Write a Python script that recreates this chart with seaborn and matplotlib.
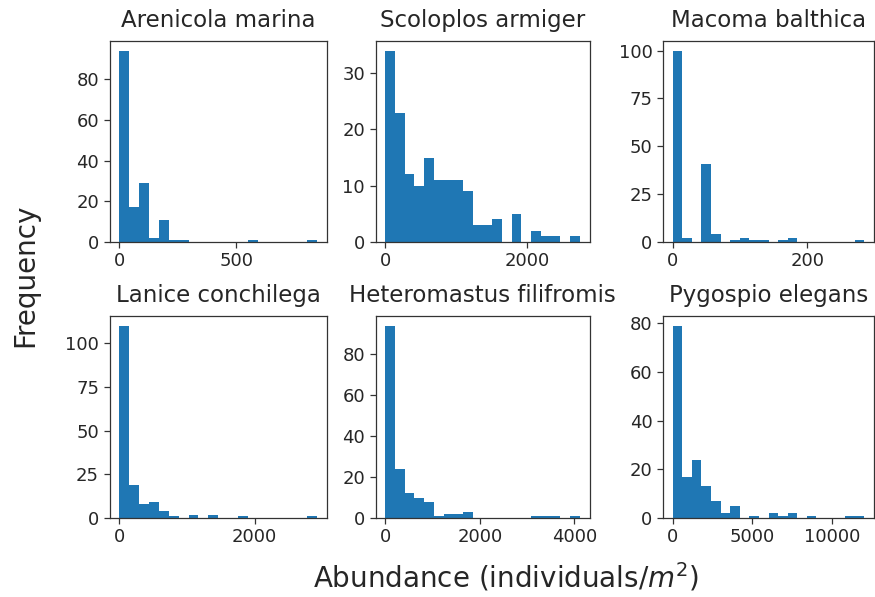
import numpy as np
import pandas as pd
import matplotlib
matplotlib.use("Agg")
import matplotlib.pyplot as plt
import seaborn as sns

# ---- data (20 equal-width bins from 0 to the max) ----
species = ["Arenicola marina", "Scoloplos armiger", "Macoma balthica",
           "Lanice conchilega", "Heteromastus filifromis", "Pygospio elegans"]

max_abundance = [846, 2745, 285, 2925, 4112, 12020]

counts_arenicola = [94, 17, 29, 2, 11, 1, 1, 0, 0, 0, 0, 0, 0, 1, 0, 0, 0, 0, 0, 1]
counts_scoloplos = [34, 23, 12, 10, 15, 11, 11, 11, 9, 3, 3, 4, 0, 5, 0, 2, 1, 1, 0, 1]
counts_macoma = [100, 2, 0, 41, 4, 0, 1, 2, 1, 1, 0, 1, 2, 0, 0, 0, 0, 0, 0, 1]
counts_lanice = [110, 19, 8, 9, 4, 1, 0, 2, 0, 2, 0, 0, 1, 0, 0, 0, 0, 0, 0, 1]
counts_heteromastus = [94, 24, 12, 10, 8, 1, 2, 2, 3, 0, 0, 0, 0, 0, 0, 1, 1, 1, 0, 1]
counts_pygospio = [79, 17, 24, 13, 7, 2, 5, 0, 1, 0, 2, 1, 2, 0, 1, 0, 0, 0, 1, 1]

all_counts = [counts_arenicola, counts_scoloplos, counts_macoma,
              counts_lanice, counts_heteromastus, counts_pygospio]

xtick_values = [[0, 500], [0, 2000], [0, 200],
                [0, 2000], [0, 2000, 4000], [0, 5000, 10000]]
ytick_values = [[0, 20, 40, 60, 80], [0, 10, 20, 30], [0, 25, 50, 75, 100],
                [0, 25, 50, 75, 100], [0, 20, 40, 60, 80], [0, 20, 40, 60, 80]]

# ---- figure ----
sns.set_style("ticks")
plt.rcParams["font.family"] = ["DejaVu Sans"]
plt.rcParams["text.color"] = "#262626"
plt.rcParams["axes.edgecolor"] = "#333333"
plt.rcParams["xtick.color"] = "#333333"
plt.rcParams["ytick.color"] = "#333333"
plt.rcParams["xtick.labelcolor"] = "#262626"
plt.rcParams["ytick.labelcolor"] = "#262626"

W, H = 875, 597
fig = plt.figure(figsize=(W / 100, H / 100), dpi=100)

col_left = [109.5, 375.5, 663]
col_width = [217.5, 214, 211]
row_top = [41, 316]
row_height = [201, 202]

BLUE = "#1f77b4"

for i, (name, cnts) in enumerate(zip(species, all_counts)):
    r, c = divmod(i, 3)
    left = col_left[c] / W
    bottom = 1 - (row_top[r] + row_height[r]) / H
    ax = fig.add_axes([left, bottom, col_width[c] / W, row_height[r] / H])
    edges = np.linspace(0, max_abundance[i], len(cnts) + 1)
    df = pd.DataFrame({"abundance": (edges[:-1] + edges[1:]) / 2,
                       "count": np.asarray(cnts, dtype=float)})
    sns.histplot(data=df, x="abundance", weights="count", bins=edges.tolist(),
                 ax=ax, color=BLUE, alpha=1, linewidth=0)
    ax.set_xticks(xtick_values[i])
    ax.set_yticks(ytick_values[i])
    ax.tick_params(labelsize=13, length=4, width=0.9)
    ax.set_xlabel("")
    ax.set_ylabel("")
    ax.set_title(name, fontsize=16.5, pad=10)
    for s in ax.spines.values():
        s.set_linewidth(0.9)

fig.text(0.029, 0.539, "Frequency", rotation=90, ha="center", va="center", fontsize=20)
fig.text(0.578, 0.034, "Abundance (individuals/$m^2$)", ha="center", va="center", fontsize=20)

fig.savefig("out.png", dpi=100)
